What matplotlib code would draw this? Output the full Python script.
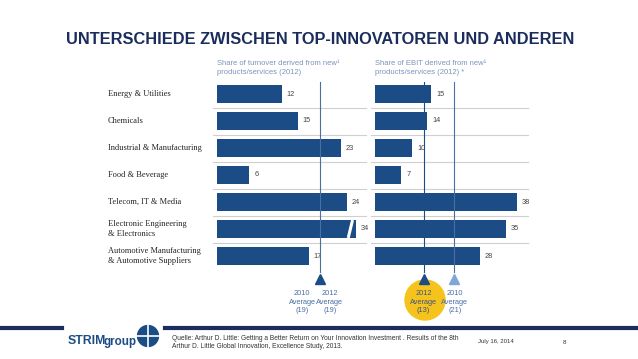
import numpy as np
import matplotlib
matplotlib.use("Agg")
import matplotlib.pyplot as plt
from matplotlib import transforms, patches

# data
categories = ["Energy & Utilities", "Chemicals", "Industrial & Manufacturing",
              "Food & Beverage", "Telecom, IT & Media",
              "Electronic Engineering\n& Electronics",
              "Automotive Manufacturing\n& Automotive Suppliers"]
turnover = [12, 15, 23, 6, 24, 34, 17]
ebit = [15, 14, 10, 7, 38, 35, 28]
turnover_avg_2010 = 19
turnover_avg_2012 = 19
ebit_avg_2012 = 13
ebit_avg_2010 = 21
turnover_cap = 25.8   # longest left bar is drawn broken at this length

NAVY = "#1c4c85"
TITLE = "#1b2d5c"
HEAD = "#7f93b8"
GRID = "#cfcfcf"
LINE = "#4a6fa5"
LIGHT = "#7fa6d8"

W, H = 638, 359
fig = plt.figure(figsize=(W/100, H/100), dpi=100)

def fx(px):
    return px / W

def fy(py):
    return 1 - py / H

top, bot = 80.5, 269.5
axL = fig.add_axes([fx(217), fy(bot), 27*5.4/W, (bot-top)/H])
axR = fig.add_axes([fx(375), fy(bot), 40*3.74/W, (bot-top)/H])

y = np.arange(len(categories))
tv = np.minimum(turnover, turnover_cap)

for ax, vals, raw, xmax in [(axL, tv, turnover, 27), (axR, ebit, ebit, 40)]:
    ax.set_xlim(0, xmax)
    ax.set_ylim(len(categories) - 0.5, -0.5)
    ax.axis("off")
    for k in range(len(categories) - 1):
        ax.axhline(k + 0.5, xmin=-0.03, xmax=1.02, color=GRID, lw=0.8,
                   clip_on=False, zorder=0)
    ax.barh(y, vals, height=0.63, color=NAVY, zorder=2)
    for yi, v, r in zip(y, vals, raw):
        ax.text(v + 0.9 * xmax / 27, yi, str(r), va="center", ha="left",
                fontsize=5.3, color="#444444", family="Liberation Sans")

# break mark on the clipped bar
for yi, v in zip(y, turnover):
    if v > turnover_cap:
        axL.plot([turnover_cap - 1.5, turnover_cap - 0.7], [yi + 0.33, yi - 0.33],
                 color="white", lw=2.2, zorder=3, solid_capstyle="butt")

# average lines and markers
axL.plot([turnover_avg_2012] * 2, [-0.45, 6.6], color=LINE, lw=0.8,
         clip_on=False, zorder=3)
axL.plot([turnover_avg_2012], [6.85], marker="^", ms=7, color=NAVY, clip_on=False)
axR.plot([ebit_avg_2012] * 2, [-0.45, 6.6], color=NAVY, lw=0.8,
         clip_on=False, zorder=3)
axR.plot([ebit_avg_2010] * 2, [-0.45, 6.6], color=LINE, lw=0.8,
         clip_on=False, zorder=3)
axR.plot([ebit_avg_2012], [6.85], marker="^", ms=7, color=NAVY, clip_on=False)
axR.plot([ebit_avg_2010], [6.85], marker="^", ms=7, color=LIGHT, clip_on=False)

# average captions
tL = transforms.blended_transform_factory(axL.transData, fig.transFigure)
tR = transforms.blended_transform_factory(axR.transData, fig.transFigure)
cap_kw = dict(ha="center", va="center", fontsize=5.3, linespacing=1.3,
              family="Liberation Sans")
axL.text(turnover_avg_2010 - 3.2, fy(302), "2010\nAverage\n(%d)" % turnover_avg_2010,
         transform=tL, color=LINE, **cap_kw)
axL.text(turnover_avg_2012 + 1.9, fy(302), "2012\nAverage\n(%d)" % turnover_avg_2012,
         transform=tL, color=LINE, **cap_kw)
circ = patches.Ellipse((fx(425), fy(300)), 40/W, 40/H, transform=fig.transFigure,
                       color="#f6c21c", zorder=0)
fig.add_artist(circ)
axR.text(ebit_avg_2012, fy(302), "2012\nAverage\n(%d)" % ebit_avg_2012,
         transform=tR, color="#3a5588", zorder=5, **cap_kw)
axR.text(ebit_avg_2010 + 0.3, fy(302), "2010\nAverage\n(%d)" % ebit_avg_2010,
         transform=tR, color=LINE, **cap_kw)

# category labels
tcat = transforms.blended_transform_factory(fig.transFigure, axL.transData)
for yi, c in zip(y, categories):
    axL.text(fx(108), yi, c, transform=tcat, ha="left", va="center",
             fontsize=6, family="Liberation Serif", color="#222222",
             linespacing=1.45)

# panel headers
fig.text(fx(217), fy(68), "Share of turnover derived from new\u00b9\nproducts/services (2012)",
         ha="left", va="center", fontsize=5.5, color=HEAD, family="Liberation Sans",
         linespacing=1.25)
fig.text(fx(375), fy(68), "Share of EBIT derived from new\u00b9\nproducts/services (2012) *",
         ha="left", va="center", fontsize=5.5, color=HEAD, family="Liberation Sans",
         linespacing=1.25)

# title
fig.text(fx(320), fy(40), "UNTERSCHIEDE ZWISCHEN TOP-INNOVATOREN UND ANDEREN",
         ha="center", va="center", fontsize=11.8, fontweight="bold", color=TITLE,
         family="Liberation Sans")

# footer
fig.add_artist(plt.Line2D([0, fx(62)], [fy(328)] * 2, color=TITLE, lw=3))
fig.add_artist(plt.Line2D([fx(165), 1], [fy(328)] * 2, color=TITLE, lw=3))
fig.text(fx(68), fy(341), "STRIM", ha="left", va="center", fontsize=8.8,
         fontweight="bold", color=NAVY, family="Liberation Sans")
fig.text(fx(104), fy(342), "group", ha="left", va="center", fontsize=8.4,
         fontweight="bold", color=NAVY, family="Liberation Sans")
fig.add_artist(patches.Ellipse((fx(148), fy(336)), 21/W, 21/H,
                               transform=fig.transFigure, color=NAVY))
fig.add_artist(plt.Line2D([fx(137), fx(159)], [fy(336)] * 2, color="white", lw=1.2))
fig.add_artist(plt.Line2D([fx(148)] * 2, [fy(325), fy(347)], color="white", lw=1.2))
fig.text(fx(172), fy(342.5), "Quelle: Arthur D. Little: Getting a Better Return on Your Innovation "
         "Investment . Results of the 8th\nArthur D. Little Global Innovation, Excellence Study, 2013.",
         ha="left", va="center", fontsize=4.75, color="#333333", family="Liberation Sans",
         linespacing=1.3)
fig.text(fx(478), fy(342), "July 16, 2014", ha="left", va="center", fontsize=4.3,
         color="#333333", family="Liberation Sans")
fig.text(fx(563), fy(342), "8", ha="left", va="center", fontsize=4.5,
         color="#333333", family="Liberation Sans")

fig.savefig("out.png", dpi=100)
